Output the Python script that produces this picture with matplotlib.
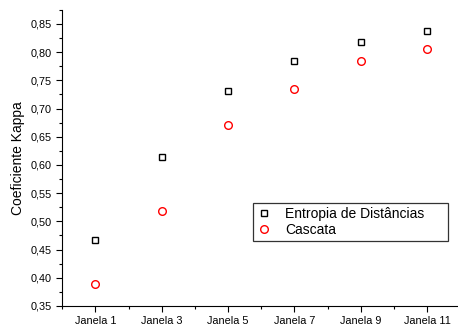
import matplotlib.pyplot as plt
from matplotlib.ticker import MultipleLocator, FuncFormatter

plt.rcParams['font.family'] = ['Liberation Sans', 'DejaVu Sans']

janelas = [1, 3, 5, 7, 9, 11]
labels = ['Janela 1', 'Janela 3', 'Janela 5', 'Janela 7', 'Janela 9', 'Janela 11']
entropia = [0.467, 0.614, 0.731, 0.784, 0.818, 0.838]
cascata = [0.389, 0.518, 0.671, 0.735, 0.784, 0.806]

fig = plt.figure(figsize=(4.58, 3.29), dpi=100)
ax = fig.add_axes([0.136, 0.070, 0.869, 0.900])

ax.plot(janelas, entropia, 's', mfc='none', mec='black', ms=5, mew=1.0,
        label='Entropia de Distâncias', clip_on=False)
ax.plot(janelas, cascata, 'o', mfc='none', mec='red', ms=5.5, mew=1.0,
        label='Cascata', clip_on=False)

ax.set_xlim(0, 12)
ax.set_ylim(0.35, 0.875)
ax.set_xticks(janelas)
ax.set_xticklabels(labels)
ax.xaxis.set_minor_locator(MultipleLocator(1))
ax.yaxis.set_major_locator(MultipleLocator(0.05))
ax.yaxis.set_minor_locator(MultipleLocator(0.025))
ax.yaxis.set_major_formatter(FuncFormatter(lambda v, p: f'{v:.2f}'.replace('.', ',')))
ax.tick_params(labelsize=7.8, direction='out', length=4, width=0.8)
ax.tick_params(which='minor', direction='out', length=2.5, width=0.8)
ax.set_ylabel('Coeficiente Kappa', fontsize=10)

for s in ['top', 'right']:
    ax.spines[s].set_visible(False)

leg = fig.legend(loc='upper left', bbox_to_anchor=(253 / 458, 1 - 203 / 329, 195 / 458, 0.0),
                 mode='expand', borderaxespad=0, fontsize=10,
                 frameon=True, fancybox=False, edgecolor='black', handlelength=1.0,
                 borderpad=0.3, labelspacing=0.15, handletextpad=1.0)
leg.get_frame().set_linewidth(0.9)

plt.savefig('out.png', dpi=100)
